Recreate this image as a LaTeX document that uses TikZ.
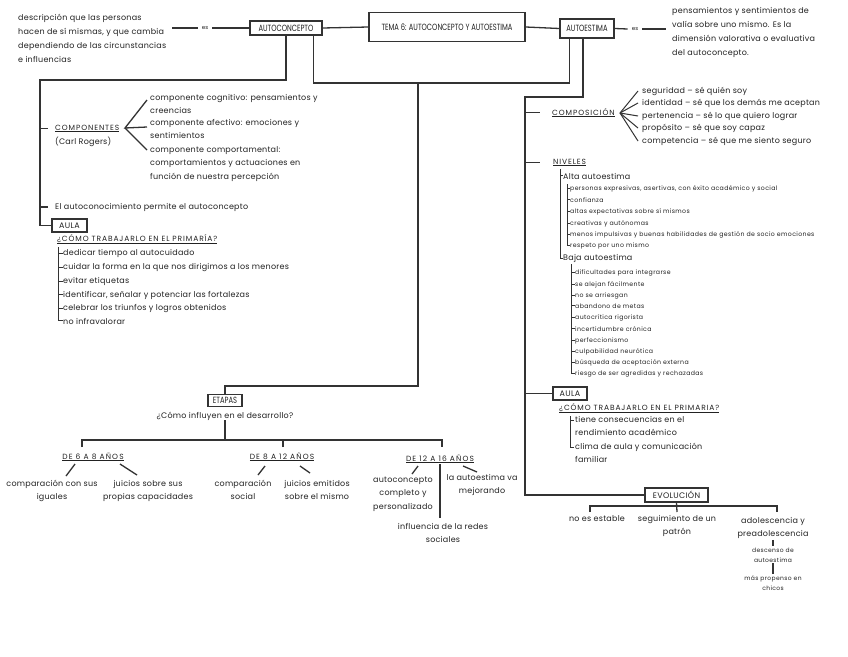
\documentclass[tikz,border=0pt]{standalone}
\usepackage{fontspec}
\setmainfont{Poppins}
\newfontfamily\condfont{Poppins}[FakeStretch=0.75]
\usetikzlibrary{calc}
\definecolor{ink}{HTML}{222222}
\definecolor{linec}{HTML}{333333}
\begin{document}
\begin{tikzpicture}[x=1pt,y=-1pt,
  ln/.style={draw=linec,line width=1.3pt},
  lnt/.style={draw=linec,line width=1pt},
  txt/.style={inner sep=0pt,align=left,anchor=base west,text=ink,font=\fontsize{8}{13.7}\selectfont\addfontfeatures{LetterSpace=3}},
  toptxt/.style={txt,font=\fontsize{8}{14}\selectfont\addfontfeatures{LetterSpace=3}},
  ctxt/.style={txt,align=center,anchor=base},
  small/.style={inner sep=0pt,align=left,anchor=base west,text=ink,font=\fontsize{6.2}{11.3}\selectfont\addfontfeatures{LetterSpace=6}},
  csmall/.style={small,align=center,anchor=base,font=\fontsize{6}{10}\selectfont\addfontfeatures{LetterSpace=6}},
  head/.style={txt,font=\fontsize{7.5}{13}\selectfont\addfontfeatures{LetterSpace=12}},
  chead/.style={head,anchor=base,align=center,font=\fontsize{7.5}{13}\selectfont\addfontfeatures{LetterSpace=15}},
  esn/.style={inner xsep=4pt,inner ysep=0pt,text=ink,font=\fontsize{5.5}{6}\selectfont},
  cbox/.style={draw=linec,line width=1.4pt,inner sep=0pt,text=ink,font=\condfont\fontsize{9}{10}\selectfont},
  rbox/.style={draw=linec,line width=1.4pt,inner sep=0pt,text=ink,font=\fontsize{8}{9}\selectfont\addfontfeatures{LetterSpace=4}},
]
\fill[white] (0,0) rectangle (848,656);
\useasboundingbox (0,0) rectangle (848,656);

% ---------- top row ----------
\node[toptxt] (defL) at (18,62) {descripción que las personas\\hacen de sí mismas, y que cambia\\dependiendo de las circunstancias\\e influencias};
\coordinate (defLend) at (172,28);
\node[esn] (es1) at (205,28) {es};
\node[cbox,minimum width=72,minimum height=14] (ac) at (286,28) {AUTOCONCEPTO};
\node[cbox,minimum width=156,minimum height=29] (tema) at (447,27) {TEMA 6: AUTOCONCEPTO Y AUTOESTIMA};
\node[cbox,minimum width=54,minimum height=19] (ae) at (587,28.5) {AUTOESTIMA};
\node[esn] (es2) at (635,29) {es};
\coordinate (defRend) at (666,29);
\node[toptxt] (defR) at (672,55) {pensamientos y sentimientos de\\valía sobre uno mismo. Es la\\dimensión valorativa o evaluativa\\del autoconcepto.};

\draw[ln] (defLend) -- (es1.west);
\draw[ln] (es1.east) -- (ac.west);
\draw[ln] (ac.east) -- (tema.west);
\draw[ln] (tema.east) -- (ae.west);
\draw[ln] (ae.east) -- (es2.west);
\draw[ln] (es2.east) -- (defRend);

% ---------- trunks ----------
\coordinate (trunkL) at (40,80);
\coordinate (hub) at (418,83);
\coordinate (etJ) at (418,386);
\coordinate (trunkR) at (525,97);

% ---------- left branch ----------
\node[head] (comp) at (55,130) {\underline{COMPONENTES}};
\node[txt] (rog) at (55,144) {(Carl Rogers)};
\coordinate (fanL) at (125,128);
\coordinate (f1) at (147,100);
\coordinate (f2) at (147,127);
\coordinate (f3) at (147,150);
\node[txt] (c1) at (150,113.7) {componente cognitivo: pensamientos y\\creencias};
\node[txt] (c2) at (150,138.7) {componente afectivo: emociones y\\sentimientos};
\node[txt] (c3) at (150,179.4) {componente comportamental:\\comportamientos y actuaciones en\\función de nuestra percepción};
\node[txt] (know) at (55,209) {El autoconocimiento permite el autoconcepto};
\node[rbox,minimum width=35,minimum height=13] (aulaL) at (69.5,225.5) {AULA};
\node[head] (howL) at (57,241) {\underline{¿CÓMO TRABAJARLO EN EL PRIMARÍA?}};
\coordinate (lJ) at (58,247);
\node[txt] (l1) at (63,255) {dedicar tiempo al autocuidado};
\node[txt] (l2) at (63,269) {cuidar la forma en la que nos dirigimos a los menores};
\node[txt] (l3) at (63,283) {evitar etiquetas};
\node[txt] (l4) at (63,297) {identificar, señalar y potenciar las fortalezas};
\node[txt] (l5) at (63,310) {celebrar los triunfos y logros obtenidos};
\node[txt] (l6) at (63,324) {no infravalorar};

\draw[ln] (ac.south) |- (trunkL) |- (aulaL.west);
\draw[ln] (trunkL |- comp.west) -- ++(8,0);
\draw[ln] (trunkL |- know.west) -- ++(8,0);
\draw[ln] (f1) -- (fanL) -- (f2);
\draw[ln] (fanL) -- (f3);
\foreach \i in {1,...,6} {\draw[lnt] (lJ) |- (l\i.west);}

% ---------- middle link / etapas ----------
\draw[ln] ($(ac.south east)+(-9,0)$) |- (hub) -| ($(ae.south west)+(10,0)$);
\node[cbox,minimum width=34,minimum height=12] (etapas) at (225,400.5) {ETAPAS};
\node[ctxt] (q) at (225,418) {¿Cómo influyen en el desarrollo?};
\draw[ln] (hub) -- (etJ) -| (etapas.north);
\coordinate (barC) at (225,440);
\coordinate (t1) at (82,447);
\coordinate (t2) at (283,447);
\coordinate (t3) at (442,447);
\draw[ln] (q.south) -- (barC);
\draw[ln] (t1) -- (t1 |- barC) -- (t3 |- barC) -- (t3);
\draw[ln] (t2) -- (t2 |- barC);

\node[chead] (age1) at (93,459) {\underline{DE 6 A 8 AÑOS}};
\node[chead] (age2) at (282,459) {\underline{DE 8 A 12 AÑOS}};
\node[chead] (age3) at (440,461) {\underline{DE 12 A 16 AÑOS}};
\node[ctxt] (x1) at (52,499.7) {comparación con sus\\iguales};
\node[ctxt] (x2) at (148,499.7) {juicios sobre sus\\propias capacidades};
\node[ctxt] (x3) at (243,499.7) {comparación\\social};
\node[ctxt] (x4) at (317,499.7) {juicios emitidos\\sobre el mismo};
\node[ctxt] (x5) at (403,509.4) {autoconcepto\\completo y\\personalizado};
\node[ctxt] (x6) at (482,493.7) {la autoestima va\\mejorando};
\node[ctxt] (x7) at (443,542.7) {influencia de la redes\\sociales};
\coordinate (d1a) at (75,464); \coordinate (d1b) at (66,476);
\coordinate (d2a) at (120,464); \coordinate (d2b) at (137,475);
\coordinate (d3a) at (265,466); \coordinate (d3b) at (258,475);
\coordinate (d4a) at (300,466); \coordinate (d4b) at (310,473);
\coordinate (d5a) at (418,466); \coordinate (d5b) at (412,474);
\coordinate (d6a) at (463,466); \coordinate (d6b) at (477,472);
\draw[ln] (d1a) -- (d1b); \draw[ln] (d2a) -- (d2b);
\draw[ln] (d3a) -- (d3b); \draw[ln] (d4a) -- (d4b);
\draw[ln] (d5a) -- (d5b); \draw[ln] (d6a) -- (d6b);
\draw[ln,shorten <=1pt,shorten >=5pt] (age3.south) -- (age3.south |- x7.north);

% ---------- right branch ----------
\node[head] (compo) at (552,115) {\underline{COMPOSICIÓN}};
\coordinate (fanR) at (620,113);
\node[txt] (s1) at (642,93) {seguridad – sé quién soy};
\node[txt] (s2) at (642,105) {identidad – sé que los demás me aceptan};
\node[txt] (s3) at (642,118) {pertenencia – sé lo que quiero lograr};
\node[txt] (s4) at (642,130) {propósito – sé que soy capaz};
\node[txt] (s5) at (642,143) {competencia – sé que me siento seguro};
\node[head] (niv) at (553,164) {\underline{NIVELES}};
\coordinate (nJ) at (560,169);
\node[txt] (alta) at (563,179) {Alta autoestima};
\node[txt] (baja) at (563,260) {Baja autoestima};
\coordinate (aJ) at (567,184);
\node[small] (a1) at (570,190) {personas expresivas, asertivas, con éxito académico y social};
\node[small] (a2) at (570,202) {confianza};
\node[small] (a3) at (570,213.5) {altas expectativas sobre sí mismos};
\node[small] (a4) at (570,225) {creativas y autónomas};
\node[small] (a5) at (570,236) {menos impulsivas y buenas habilidades de gestión de socio emociones};
\node[small] (a6) at (570,247) {respeto por uno mismo};
\coordinate (bJ) at (571,264);
\node[small] (b1) at (575,274) {dificultades para integrarse};
\node[small] (b2) at (575,286) {se alejan fácilmente};
\node[small] (b3) at (575,297) {no se arriesgan};
\node[small] (b4) at (575,308) {abandono de metas};
\node[small] (b5) at (575,319) {autocrítica rigorista};
\node[small] (b6) at (575,331) {incertidumbre crónica};
\node[small] (b7) at (575,342) {perfeccionismo};
\node[small] (b8) at (575,353) {culpabilidad neurótica};
\node[small] (b9) at (575,364) {búsqueda de aceptación externa};
\node[small] (b10) at (575,375) {riesgo de ser agredidas y rechazadas};
\node[rbox,minimum width=34,minimum height=13] (aulaR) at (570,393.5) {AULA};
\node[head] (howR) at (559,410) {\underline{¿CÓMO TRABAJARLO EN EL PRIMARIA?}};
\coordinate (rJ) at (570,416);
\coordinate (rk1) at (574,420);
\coordinate (rk2) at (574,447);
\node[txt] (r1) at (575,435.7) {tiene consecuencias en el\\rendimiento académico};
\node[txt] (r2) at (575,462.7) {clima de aula y comunicación\\familiar};
\node[rbox,minimum width=63,minimum height=14] (evol) at (676.5,495) {EVOLUCIÓN};
\coordinate (evB) at (677,506);
\coordinate (v1) at (590,512);
\coordinate (v2) at (677,512);
\coordinate (v3) at (777,512);
\node[ctxt] (e1) at (597,521) {no es estable};
\node[ctxt] (e2) at (677,534.7) {seguimiento de un\\patrón};
\node[ctxt] (ado) at (773,536.7) {adolescencia y\\preadolescencia};
\node[csmall] (desc) at (773,562) {descenso de\\autoestima};
\node[csmall] (mas) at (773,590) {más propenso en\\chicos};

\draw[ln] ($(ae.south)+(-4,0)$) |- (trunkR) |- (evol.west);
\draw[ln] (trunkR |- compo.west) -- ++(15,0);
\draw[ln] (trunkR |- niv.west) -- ++(15,0);
\draw[ln] (trunkR |- aulaR.west) -- (aulaR.west);
\foreach \i in {1,...,5} {\draw[lnt] (fanR) -- ($(s\i.base west)+(-4,-2)$);}
\draw[lnt] (nJ) |- (alta.west);
\draw[lnt] (nJ) |- (baja.west);
\foreach \i in {1,...,6} {\draw[lnt] (aJ) |- (a\i.west);}
\foreach \i in {1,...,10} {\draw[lnt] (bJ) |- (b\i.west);}
\draw[lnt] (rJ) |- (rk1);
\draw[lnt] (rJ) |- (rk2);
\draw[ln] (v1) -- (v1 |- evB) -- (v3 |- evB) -- (v3);
\draw[ln] (evol.south) -- (v2);
\draw[ln,shorten <=1pt,shorten >=1pt] (ado.south) -- (desc.north);
\draw[ln,shorten <=1pt,shorten >=1pt] (desc.south) -- (mas.north);
\end{tikzpicture}
\end{document}
